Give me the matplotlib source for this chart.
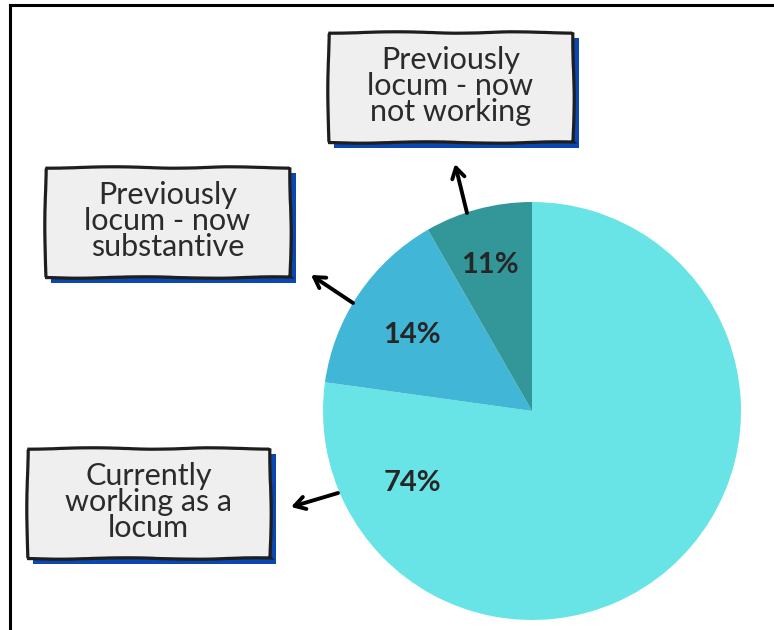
import matplotlib
matplotlib.use('Agg')
import matplotlib.pyplot as plt
from matplotlib.patches import Rectangle

# ---- data ----
categories = ["Currently\nworking as a\nlocum",
              "Previously\nlocum - now\nsubstantive",
              "Previously\nlocum - now\nnot working"]
shares = [77.2, 14.5, 8.3]          # wedge sizes as drawn
pct_labels = ["74%", "14%", "11%"]  # printed labels
colors = ["#68E4E6", "#41B6D6", "#339799"]

# ---- layout (pixels, y measured from top) ----
W, H = 774, 630
center_px = (532, 411)
radius_px = 209
pct_pos = [(412, 483), (412, 335), (490, 265)]
box_rects = [(27, 448, 270, 558), (45, 167, 290, 277), (328, 32, 573, 142)]
arrows = [((338, 493), (291, 507)), ((353, 303), (311, 275)), ((467, 213), (455, 164))]

fig = plt.figure(figsize=(W / 100, H / 100), dpi=100)
ax = fig.add_axes([0, 0, 1, 1])

def Y(y):
    return H - y

ax.pie(shares, colors=colors, startangle=90, counterclock=False,
       center=(center_px[0], Y(center_px[1])), radius=radius_px, frame=True,
       wedgeprops=dict(linewidth=0))
ax.set_xlim(0, W)
ax.set_ylim(0, H)
ax.set_aspect('equal')
ax.axis('off')

fam = ['Lato', 'DejaVu Sans']
for lab, (x, y) in zip(pct_labels, pct_pos):
    ax.text(x, Y(y), lab, ha='center', va='center', fontsize=21, fontweight='bold',
            color='#262626', family=fam)

for cat, (x0, y0, x1, y1) in zip(categories, box_rects):
    shadow = Rectangle((x0 + 6, Y(y1) - 6), x1 - x0, y1 - y0, facecolor='#0A47B0',
                       edgecolor='none', zorder=3)
    ax.add_patch(shadow)
    box = Rectangle((x0, Y(y1)), x1 - x0, y1 - y0, facecolor='#EFEFEF',
                    edgecolor='#1E1E1E', linewidth=2.3, zorder=4)
    box.set_sketch_params(scale=0.7, length=160, randomness=3)
    ax.add_patch(box)
    ax.text((x0 + x1) / 2, Y((y0 + y1) / 2) + 1, cat, ha='center', va='center',
            fontsize=22, color='#2B2B2B', family=fam, linespacing=0.93, zorder=5)

for (tail, tip) in arrows:
    ax.annotate('', xy=(tip[0], Y(tip[1])), xytext=(tail[0], Y(tail[1])),
                arrowprops=dict(arrowstyle='->,head_length=0.75,head_width=0.45',
                                lw=2.8, color='black', shrinkA=0, shrinkB=0),
                zorder=6)

# frame (left and top edges)
ax.plot([9.5, 9.5], [Y(5), Y(640)], color='black', lw=2.2, solid_capstyle='projecting')
ax.plot([9.5, 780], [Y(5), Y(5)], color='black', lw=2.2, solid_capstyle='projecting')

fig.savefig('out.png', dpi=100)
